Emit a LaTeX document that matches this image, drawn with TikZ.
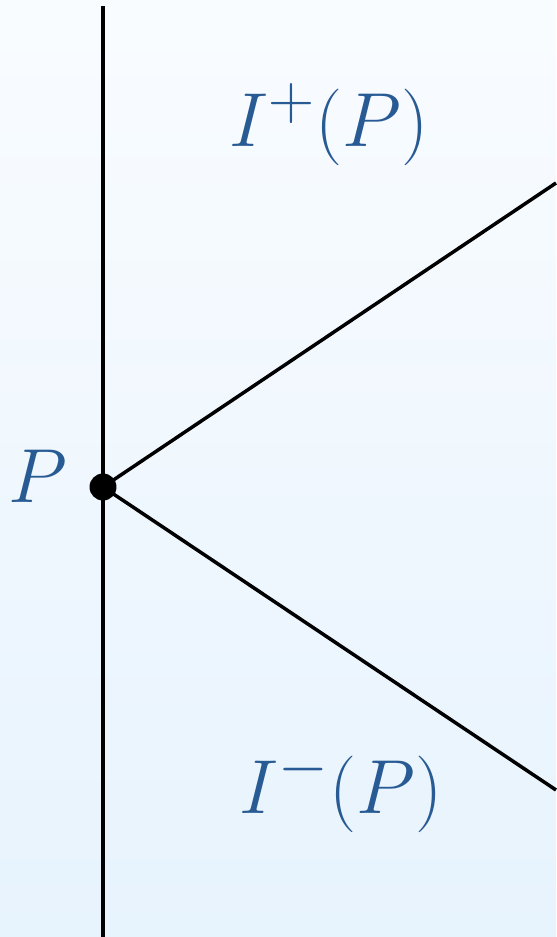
\documentclass[tikz,border=0pt]{standalone}
\usepackage{amsmath,amssymb}
\usetikzlibrary{positioning}
\definecolor{conelabel}{RGB}{40,90,148}
\definecolor{bgtop}{RGB}{249,252,255}
\definecolor{bgbot}{RGB}{231,243,253}

\begin{document}
\begin{tikzpicture}[x=0.315pt,y=-0.315pt,lbl/.style={text=conelabel,font=\Huge,inner sep=0pt,scale=0.97}]
  \useasboundingbox (0,0) rectangle (556,937);
  \shade[top color=bgtop,bottom color=bgbot] (0,0) rectangle (556,937);
  \coordinate (top) at (103,6);
  \coordinate (bot) at (103,937);
  \coordinate (P) at (103,487);
  \coordinate (fut) at (556,183);
  \coordinate (past) at (556,790);
  \draw[line width=1.3pt] (top)--(bot);
  \draw[line width=1.1pt] (P)--(fut);
  \draw[line width=1.1pt] (P)--(past);
  \fill (P) circle (4.25pt);
  \node[lbl,anchor=base] (Plabel) at (38,503) {$P$};
  \node[lbl,anchor=base] (Iplus) at (329,147) {$I^+(P)$};
  \node[lbl,anchor=base] (Iminus) at (341,813) {$I^-(P)$};
\end{tikzpicture}
\end{document}
